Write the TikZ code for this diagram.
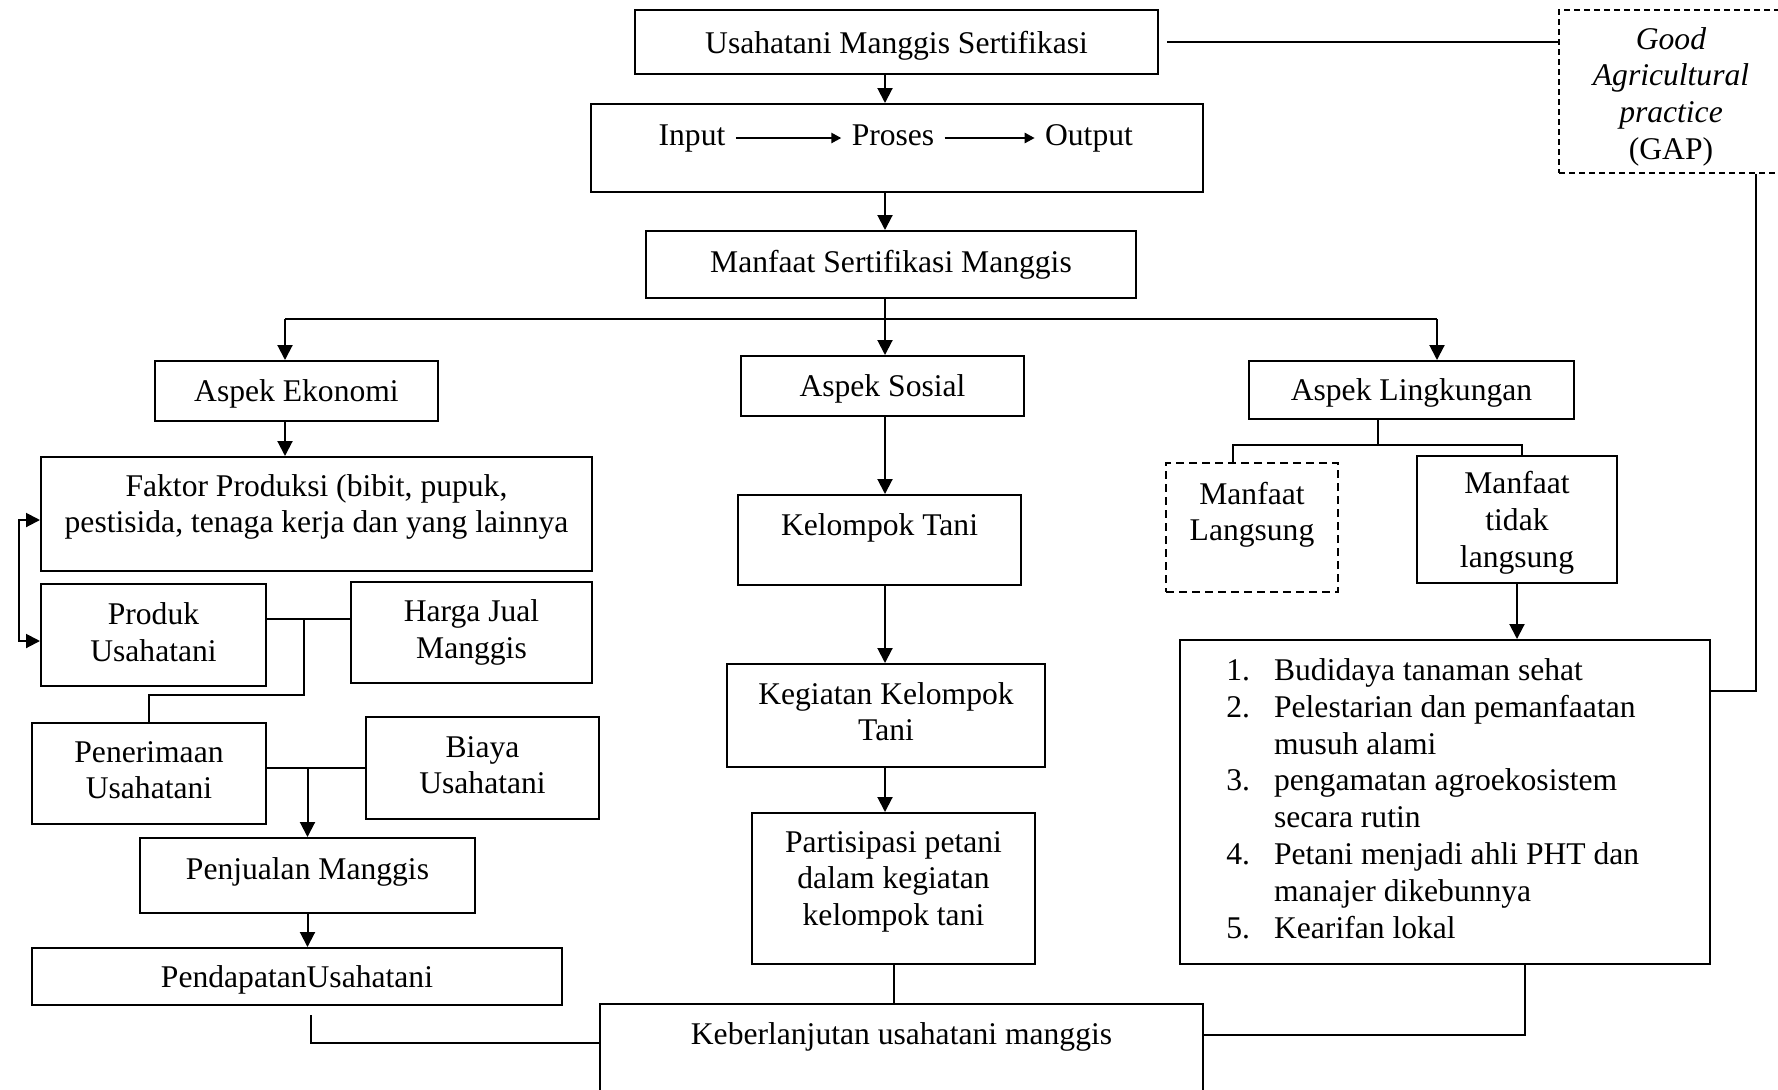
\documentclass[tikz,border=0pt]{standalone}
\usepackage{fontspec}
\setmainfont{Liberation Serif}
\usetikzlibrary{arrows.meta,positioning}
\newcommand{\boxfont}{\fontsize{15.8pt}{18.4pt}\selectfont}

\begin{document}
\begin{tikzpicture}[x=0.5pt, y=-0.5pt,
    box/.style={rectangle, draw, line width=1pt, align=center, inner sep=0pt, font=\boxfont},
    sz/.style 2 args={minimum width=#1*0.5pt, minimum height=#2*0.5pt},
    dashbox/.style={box, dash pattern=on 3pt off 2pt},
    lift/.style={text depth=#1},
    word/.style={inner xsep=5pt, inner ysep=0pt, text height=11pt, text depth=3.4pt, font=\boxfont},
    line/.style={line width=1pt},
    arrow/.style={line, -{Triangle[length=7.5pt,width=7.5pt]}},
    smallarrow/.style={line width=1.2pt, -{Triangle[length=5pt,width=5pt]}},
    dblarrow/.style={line, {Triangle[length=7pt,width=7pt]}-{Triangle[length=7pt,width=7pt]}}
]
\useasboundingbox (0,0) rectangle (1778,1089);
\clip (0,0) rectangle (1778,1089);

% top
\node[box, sz={523}{64}, lift=-0.8pt] (cert) at (896.5,42) {Usahatani Manggis Sertifikasi};
\node[box, sz={612}{88}] (ipo) at (897,148) {};
\node[word] (inp) at (692,138) {Input};
\node[word] (pros) at (893,138) {Proses};
\node[word] (outp) at (1089,138) {Output};
\node[box, sz={490}{67}] (benefit) at (891,264.5) {Manfaat Sertifikasi Manggis};
\node[dashbox, sz={224}{163}, text height=68pt, text depth=0pt] (gap) at (1671,91.5) {\textit{Good}\\\textit{Agricultural}\\\textit{practice}\\(GAP)};

\node[box, sz={283}{60}, lift=-2pt] (eko) at (296.5,391) {Aspek Ekonomi};
\node[box, sz={283}{60}, lift=0pt] (sos) at (882.5,386) {Aspek Sosial};
\node[box, sz={325}{58}, lift=0pt] (ling) at (1411.5,390) {Aspek Lingkungan};

% ekonomi
\node[box, sz={551}{114}, lift=10.4pt] (faktor) at (316.5,514) {Faktor Produksi (bibit, pupuk,\\pestisida, tenaga kerja dan yang lainnya};
\node[box, sz={225}{102}, lift=2.8pt] (produk) at (153.5,635) {Produk\\Usahatani};
\node[box, sz={241}{101}] (harga) at (471.5,632.5) {Harga Jual\\Manggis};
\node[box, sz={234}{101}, lift=3.4pt] (terima) at (149,773.5) {Penerimaan\\Usahatani};
\node[box, sz={233}{102}, lift=2.9pt] (biaya) at (482.5,768) {Biaya\\Usahatani};
\node[box, sz={335}{75}, lift=7pt] (jual) at (307.5,875.5) {Penjualan Manggis};
\node[box, sz={530}{57}, lift=-1.1pt] (dapat) at (297,976.5) {PendapatanUsahatani};

% sosial
\node[box, sz={283}{90}, lift=15.4pt] (kelompok) at (879.5,540) {Kelompok Tani};
\node[box, sz={318}{103}, lift=4pt] (kegiatan) at (886,715.5) {Kegiatan Kelompok\\Tani};
\node[box, sz={283}{151}, lift=10.1pt] (partisipasi) at (893.5,888.5) {Partisipasi petani\\dalam kegiatan\\kelompok tani};
\node[box, sz={603}{96}, lift=18.4pt] (lanjut) at (901.5,1052) {Keberlanjutan usahatani manggis};

% lingkungan
\node[dashbox, dash pattern=on 4pt off 2.5pt, sz={172}{129}, lift=16.1pt] (langsung) at (1252,527.5) {Manfaat\\Langsung};
\node[box, sz={200}{127}, lift=-2pt] (taklangsung) at (1517,519.5) {Manfaat\\tidak\\langsung};
\node[box, sz={530}{324}] (daftar) at (1445,802) {\begin{tabular}{@{}l@{\hspace{12pt}}l@{}}
1. & Budidaya tanaman sehat\\
2. & Pelestarian dan pemanfaatan\\
   & musuh alami\\
3. & pengamatan agroekosistem\\
   & secara rutin\\
4. & Petani menjadi ahli PHT dan\\
   & manajer dikebunnya\\
5. & Kearifan lokal
\end{tabular}\hspace*{12.2pt}};

\coordinate (mid) at (885,0);
\coordinate (jL) at (285,319);
\coordinate (jR) at (1437,319);
\coordinate (lx) at (19,0);
\coordinate (pj) at (304,695);
\coordinate (ls) at (1378,445);
\coordinate (gr) at (1756,691);
\coordinate (lr) at (1525,1035);

\draw[arrow] (mid |- cert.south) -- (mid |- ipo.north);
\draw[arrow] (mid |- ipo.south) -- (mid |- benefit.north);
\draw[smallarrow] (inp) -- (pros);
\draw[smallarrow] (pros) -- (outp);
\draw[line] ([xshift=4pt]cert.east) -- (gap.west |- cert.east);

\draw[line] (mid |- benefit.south) -- (mid |- jL);
\draw[line] (jL) -- (jR);
\draw[arrow] (jL) -- (jL |- eko.north);
\draw[arrow] (mid |- jL) -- (mid |- sos.north);
\draw[arrow] (jR) -- (jR |- ling.north);

\draw[arrow] (jL |- eko.south) -- (jL |- faktor.north);
\draw[dblarrow] ([yshift=-3pt]faktor.west) -- ([yshift=-3pt]faktor.west -| lx) -- ([yshift=-3pt]produk.west -| lx) -- ([yshift=-3pt]produk.west);
\draw[line] ([yshift=8pt]produk.east) -- ([yshift=8pt]produk.east -| harga.west);
\draw[line] ([yshift=8pt]produk.east -| pj) -- (pj) -| (terima.north);
\draw[line] ([yshift=3pt]terima.east) -- ([yshift=3pt]terima.east -| biaya.west);
\draw[arrow] ([yshift=3pt]terima.east -| jual.north) -- (jual.north);
\draw[arrow] (jual.south) -- (jual.south |- dapat.north);
\draw[line] ([xshift=7pt,yshift=-4.5pt]dapat.south) |- ([yshift=4.5pt]lanjut.west);

\draw[arrow] (mid |- sos.south) -- (mid |- kelompok.north);
\draw[arrow] (mid |- kelompok.south) -- (mid |- kegiatan.north);
\draw[arrow] (mid |- kegiatan.south) -- (mid |- partisipasi.north);
\draw[line] (partisipasi.south) -- (partisipasi.south |- lanjut.north);

\draw[line] (ls |- ling.south) -- (ls);
\draw[line] ([xshift=-9.5pt]langsung.north) |- (ls) -| ([xshift=2.5pt]taklangsung.north);
\draw[arrow] (taklangsung.south) -- (taklangsung.south |- daftar.north);
\draw[line] (gr |- gap.south) -- (gr) -- (gr -| daftar.east);
\draw[line] (lr |- daftar.south) -- (lr) -- (lr -| lanjut.east);
\end{tikzpicture}
\end{document}
